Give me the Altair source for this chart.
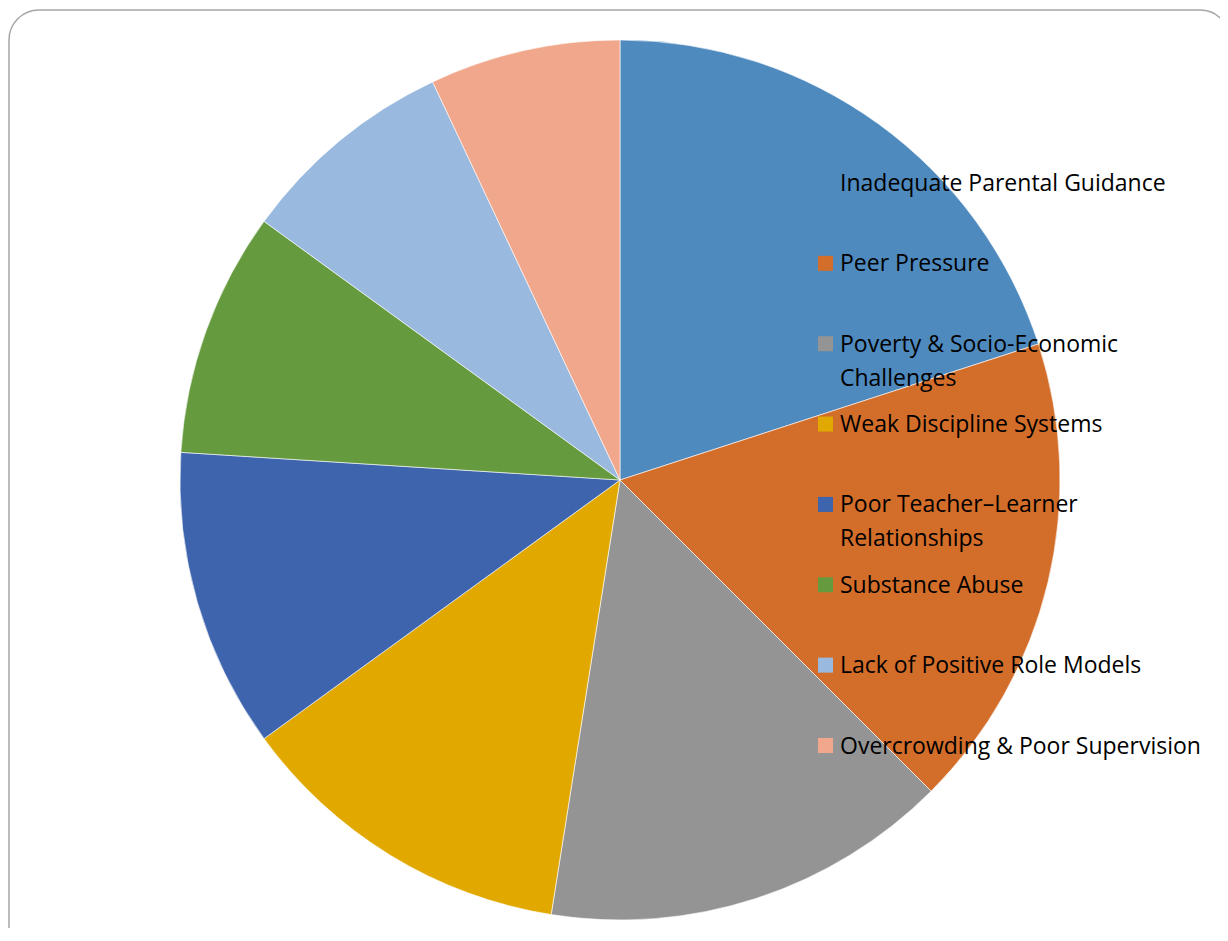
import altair as alt
import pandas as pd

categories = [
    "Inadequate Parental Guidance",
    "Peer Pressure",
    "Poverty & Socio-Economic Challenges",
    "Weak Discipline Systems",
    "Poor Teacher\u2013Learner Relationships",
    "Substance Abuse",
    "Lack of Positive Role Models",
    "Overcrowding & Poor Supervision",
]
legend_labels = [
    "Inadequate Parental Guidance",
    "Peer Pressure",
    "Poverty & Socio-Economic\nChallenges",
    "Weak Discipline Systems",
    "Poor Teacher\u2013Learner\nRelationships",
    "Substance Abuse",
    "Lack of Positive Role Models",
    "Overcrowding & Poor Supervision",
]
values = [20, 17.5, 15, 12.5, 11, 9, 8, 7]
colors = ["#4F8ABE", "#D36D2A", "#949494", "#E1A900", "#3D64AD", "#659A3E", "#9AB9DF", "#F0A78B"]

df = pd.DataFrame({
    "category": categories,
    "label": legend_labels,
    "value": values,
    "idx": list(range(len(categories))),
})

color_scale = alt.Scale(domain=categories, range=colors)

frame = alt.Chart(pd.DataFrame({"a": [0]})).mark_rect(
    fill="white", stroke="#a6a6a6", strokeWidth=1.5, cornerRadius=30
).encode(
    x=alt.value(1), x2=alt.value(1222), y=alt.value(2), y2=alt.value(960)
)

pie = alt.Chart(df).mark_arc(outerRadius=440, stroke="white", strokeWidth=0.6).encode(
    theta=alt.Theta("value:Q", stack=True),
    color=alt.Color("category:N", scale=color_scale, legend=None),
    order=alt.Order("idx:Q"),
    x=alt.value(612),
    y=alt.value(472),
)

ypos = alt.Y("idx:Q", scale=alt.Scale(domain=[0, 7], range=[175, 737.5]), axis=None)

swatches = alt.Chart(df).mark_square(size=225, opacity=1, filled=True).encode(
    x=alt.value(817.5),
    y=ypos,
    color=alt.Color("category:N", scale=color_scale, legend=None),
)

labels = alt.Chart(df).mark_text(
    align="left", baseline="alphabetic", dy=8, fontSize=23, font="Open Sans",
    lineBreak="\n", lineHeight=34, color="black"
).encode(
    x=alt.value(832),
    y=ypos,
    text="label:N",
)

chart = alt.layer(frame, pie, swatches, labels).properties(
    width=1212, height=920, padding=0,
    autosize=alt.AutoSizeParams(type="none"),
).configure_view(stroke=None)

chart.save("out.html", embed_options={"renderer": "svg", "actions": False})
